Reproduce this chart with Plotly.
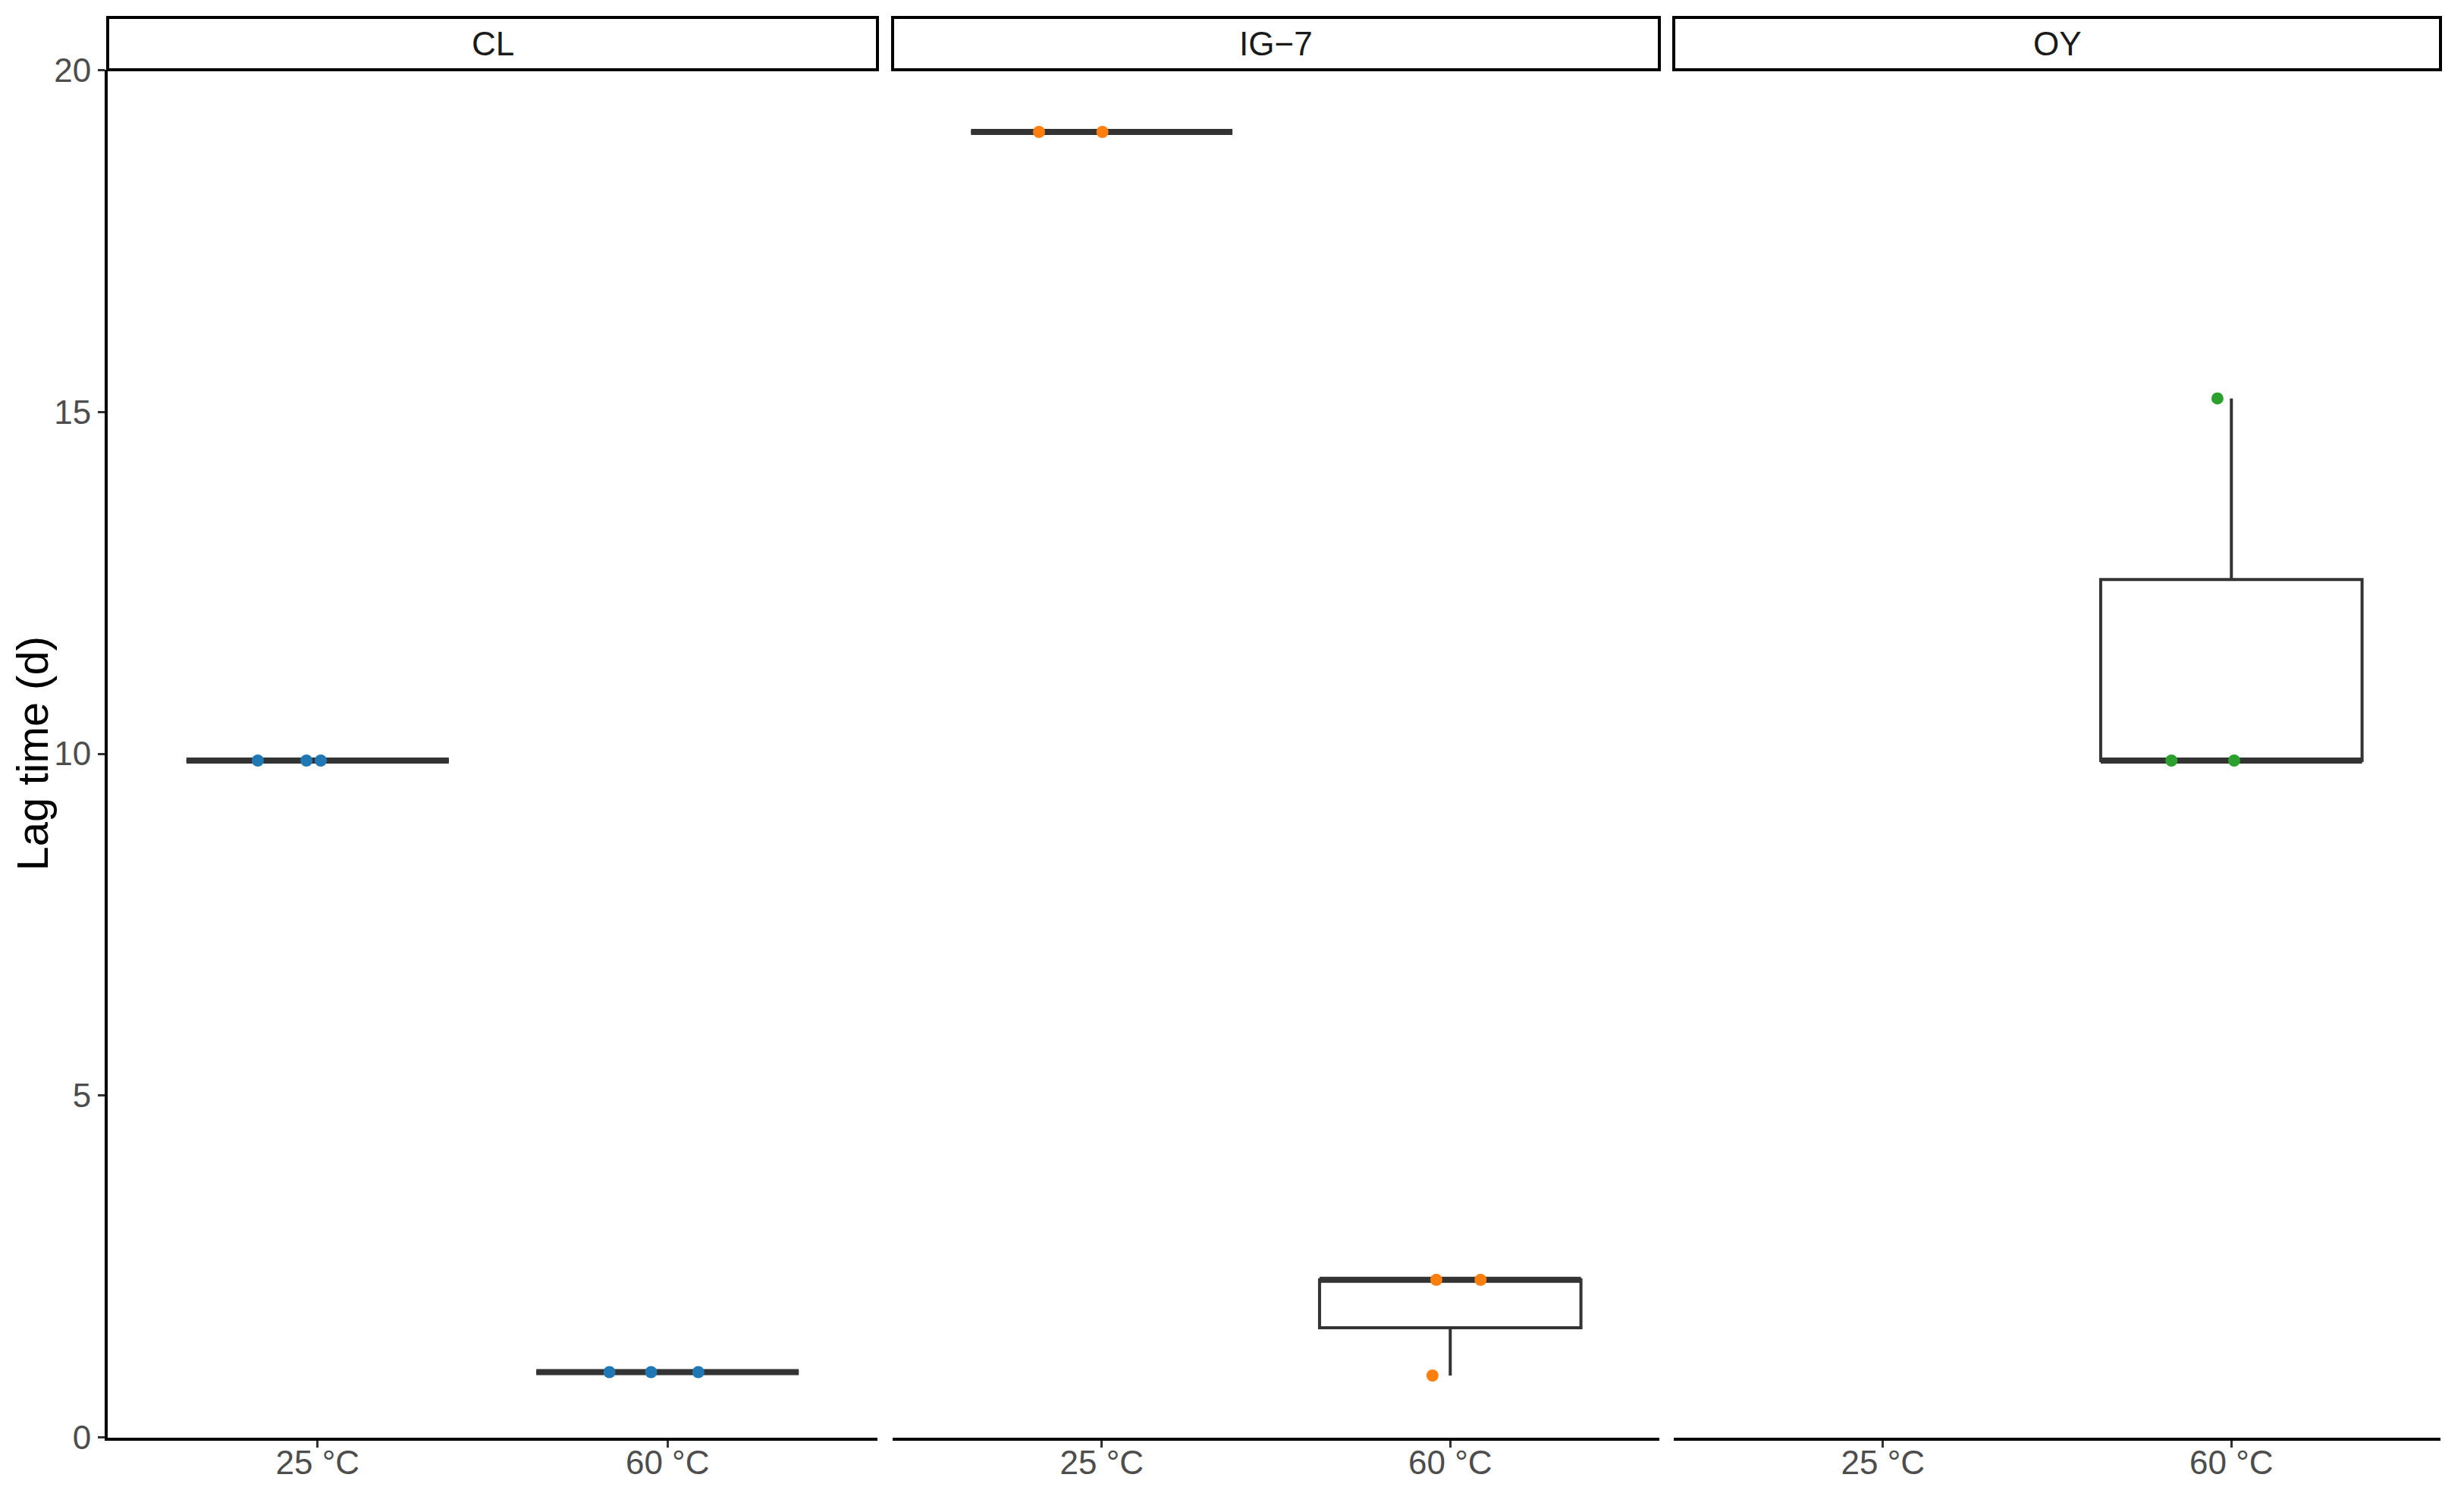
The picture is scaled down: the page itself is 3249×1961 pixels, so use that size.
import numpy as np
import plotly.graph_objects as go

# ---------------- data ----------------
facets = ["CL", "IG\u22127", "OY"]
temps = ["25 \u00b0C", "60 \u00b0C"]
colors = ["#1f77b4", "#ff7f0e", "#2ca02c"]

cl_25 = [9.9, 9.9, 9.9]
cl_60 = [0.95, 0.95, 0.95]
ig7_25 = [19.1, 19.1]
ig7_60 = [0.9, 2.3, 2.3]
oy_25 = []
oy_60 = [9.9, 9.9, 15.2]

# horizontal jitter of each point (in category units)
cl_25_jit = [-0.171, -0.032, 0.009]
cl_60_jit = [-0.166, -0.047, 0.088]
ig7_25_jit = [-0.180, 0.002]
ig7_60_jit = [-0.051, -0.040, 0.087]
oy_25_jit = []
oy_60_jit = [-0.172, 0.008, -0.040]

values = [[cl_25, cl_60], [ig7_25, ig7_60], [oy_25, oy_60]]
jitters = [[cl_25_jit, cl_60_jit], [ig7_25_jit, ig7_60_jit], [oy_25_jit, oy_60_jit]]

y_ticks = [0, 5, 10, 15, 20]

# ---------------- layout geometry ----------------
W, H = 3249, 1961
OFF = 8  # page body margin
FONT = "Liberation Sans, Arial, sans-serif"
panel_x = [(142, 1157), (1177, 2188), (2207, 3218)]
panel_top, panel_bot = 92, 1896
strip_top = 23

def px_x(p):
    return (p - OFF) / W

def px_y(p):
    return (H - (p - OFF)) / H

fig = go.Figure()

for i, fac in enumerate(facets):
    xa = "x" if i == 0 else f"x{i+1}"
    ya = "y" if i == 0 else f"y{i+1}"
    for j, t in enumerate(temps):
        vals = np.array(values[i][j], dtype=float)
        if vals.size == 0:
            continue
        pos = j + 1
        q1, med, q3 = np.percentile(vals, [25, 50, 75])
        iqr = q3 - q1
        lo = vals[vals >= q1 - 1.5 * iqr].min()
        hi = vals[vals <= q3 + 1.5 * iqr].max()
        fig.add_trace(go.Box(
            x=[pos], q1=[q1], median=[med], q3=[q3],
            lowerfence=[lo], upperfence=[hi],
            width=0.75, whiskerwidth=0, boxpoints=False,
            fillcolor="rgba(255,255,255,0)",
            line=dict(color="#333333", width=4),
            xaxis=xa, yaxis=ya, showlegend=False, hoverinfo="skip"))
        # thicker median line (ggplot fatten)
        fig.add_trace(go.Box(
            x=[pos], q1=[med], median=[med], q3=[med],
            lowerfence=[med], upperfence=[med],
            width=0.75, whiskerwidth=0, boxpoints=False,
            fillcolor="rgba(255,255,255,0)",
            line=dict(color="#333333", width=8),
            xaxis=xa, yaxis=ya, showlegend=False, hoverinfo="skip"))
        fig.add_trace(go.Scatter(
            x=[pos + d for d in jitters[i][j]], y=list(vals),
            mode="markers",
            marker=dict(size=16, color=colors[i], line=dict(width=0)),
            xaxis=xa, yaxis=ya, showlegend=False, hoverinfo="skip"))

layout = dict(
    template="none",
    width=W, height=H,
    margin=dict(l=0, r=0, t=0, b=0, autoexpand=False),
    paper_bgcolor="white", plot_bgcolor="white",
    boxmode="overlay",
    font=dict(family=FONT),
    showlegend=False,
    shapes=[], annotations=[],
)

for i, fac in enumerate(facets):
    xk = "xaxis" if i == 0 else f"xaxis{i+1}"
    yk = "yaxis" if i == 0 else f"yaxis{i+1}"
    ya = "y" if i == 0 else f"y{i+1}"
    xa = "x" if i == 0 else f"x{i+1}"
    x0, x1 = panel_x[i]
    layout[xk] = dict(
        domain=[px_x(x0), px_x(x1)], anchor=ya, automargin=False,
        range=[0.4, 2.6], tickmode="array", tickvals=[1, 2], ticktext=temps,
        showline=True, linecolor="black", linewidth=4,
        ticks="outside", ticklen=9, tickwidth=3, tickcolor="#333333",
        ticklabelstandoff=-18,
        tickfont=dict(size=44, color="#4D4D4D", family=FONT),
        showgrid=False, zeroline=False, fixedrange=True)
    ydict = dict(
        domain=[px_y(panel_bot), px_y(panel_top)], anchor=xa, automargin=False,
        range=[-0.01, 20.01], tickmode="array", tickvals=y_ticks,
        showgrid=False, zeroline=False, fixedrange=True)
    if i == 0:
        ydict.update(showline=True, linecolor="black", linewidth=4,
                     ticks="outside", ticklen=9, tickwidth=3, tickcolor="#333333",
                     tickfont=dict(size=44, color="#4D4D4D", family=FONT))
    else:
        ydict.update(showline=False, showticklabels=False, ticks="")
    layout[yk] = ydict
    # strip
    layout["shapes"].append(dict(
        type="rect", xref="paper", yref="paper",
        x0=px_x(x0), x1=px_x(x1), y0=px_y(panel_top), y1=px_y(strip_top),
        line=dict(color="black", width=4), fillcolor="white", layer="above"))
    layout["annotations"].append(dict(
        text=fac, xref="paper", yref="paper",
        x=(px_x(x0) + px_x(x1)) / 2, y=(px_y(panel_top) + px_y(strip_top)) / 2,
        xanchor="center", yanchor="middle", showarrow=False,
        font=dict(size=44, color="#1A1A1A", family=FONT)))

layout["annotations"].append(dict(
    text="Lag time (d)", xref="paper", yref="paper",
    x=0, y=px_y((panel_top + panel_bot) / 2), borderpad=0,
    xanchor="left", yanchor="middle", textangle=-90, showarrow=False,
    font=dict(size=58, color="black", family=FONT)))

fig.update_layout(**layout)
fig.write_html("out.html")
